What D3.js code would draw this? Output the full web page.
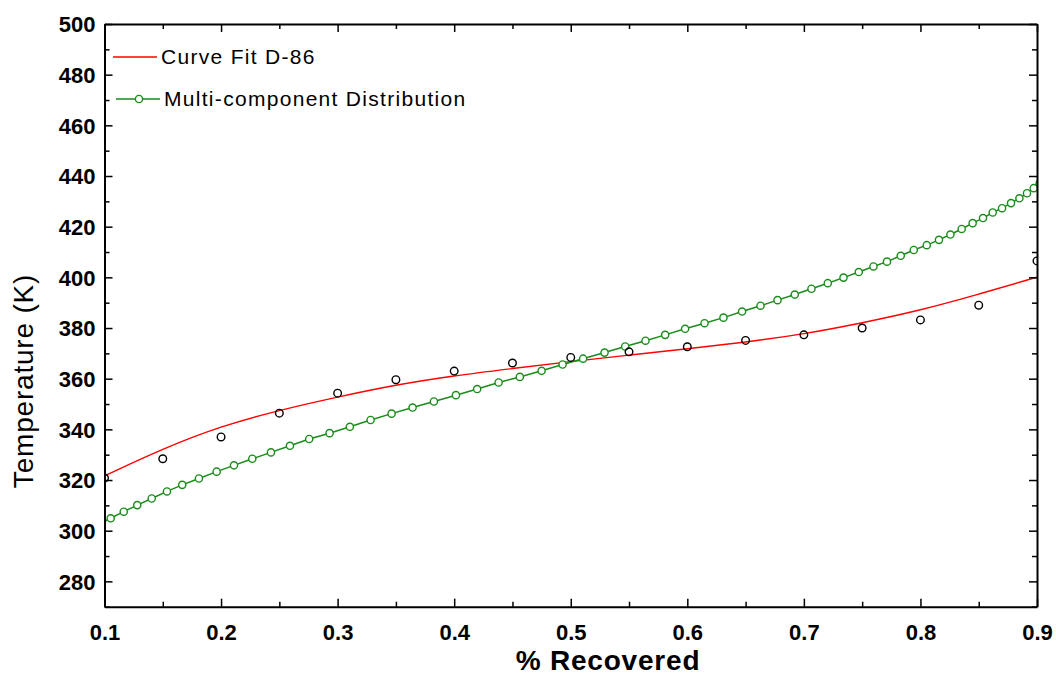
<!DOCTYPE html>
<html>
<head>
<meta charset="utf-8">
<script src="https://cdn.jsdelivr.net/npm/d3@7"></script>
<style>
  html, body { margin: 0; padding: 0; background: #fff; }
  svg { display: block; }
</style>
</head>
<body>
<svg id="chart" width="1056" height="675"></svg>
<script>
// Fraction recovered vs. temperature (K)

// ASTM D-86 distillation points
const d86X = [0.10, 0.15, 0.20, 0.25, 0.30, 0.35, 0.40, 0.45, 0.50, 0.55, 0.60, 0.65, 0.70, 0.75, 0.80, 0.85, 0.90];
const d86T = [320.8, 328.4, 337.0, 346.4, 354.3, 359.6, 363.0, 366.2, 368.4, 370.6, 372.6, 375.1, 377.3, 380.0, 383.2, 389.0, 406.5];

// Smooth curve fitted through the D-86 data
const fitX = [0.10, 0.15, 0.20, 0.25, 0.30, 0.35, 0.40, 0.45, 0.50, 0.55, 0.60, 0.65, 0.70, 0.75, 0.80, 0.85, 0.90];
const fitT = [321.6, 332.4, 341.3, 347.6, 352.8, 357.6, 361.2, 364.0, 366.8, 369.3, 371.8, 374.4, 377.6, 382.0, 387.0, 393.3, 400.1];

// Multi-component distribution result
const mcX = [0.0942, 0.1053, 0.1165, 0.1281, 0.1405, 0.1536, 0.1667, 0.1810, 0.1962, 0.2111,
             0.2268, 0.2428, 0.2591, 0.2756, 0.2931, 0.3105, 0.3283, 0.3463, 0.3643, 0.3826,
             0.4015, 0.4197, 0.4381, 0.4563, 0.4750, 0.4930, 0.5106, 0.5290, 0.5467, 0.5641,
             0.5810, 0.5981, 0.6148, 0.6310, 0.6470, 0.6628, 0.6774, 0.6922, 0.7065, 0.7205,
             0.7340, 0.7471, 0.7597, 0.7713, 0.7831, 0.7943, 0.8054, 0.8159, 0.8257, 0.8354,
             0.8448, 0.8537, 0.8620, 0.8700, 0.8777, 0.8849, 0.8914, 0.8972, 0.9023];
const mcT = [302.2, 304.9, 307.5, 310.1, 312.7, 315.5, 318.1, 320.6, 323.3, 325.8,
             328.4, 330.9, 333.5, 336.2, 338.5, 341.0, 343.7, 346.2, 348.6, 351.0,
             353.5, 355.9, 358.5, 360.7, 363.1, 365.6, 367.9, 370.3, 372.7, 375.0,
             377.3, 379.7, 381.9, 384.1, 386.5, 388.8, 391.0, 393.2, 395.5, 397.7,
             399.9, 402.1, 404.3, 406.2, 408.5, 410.8, 412.7, 414.8, 416.9, 419.1,
             421.4, 423.4, 425.6, 427.3, 429.3, 431.2, 433.2, 435.2, 437.1];

const xTickVals = [0.1, 0.2, 0.3, 0.4, 0.5, 0.6, 0.7, 0.8, 0.9];
const xTickLabels = ["0.1", "0.2", "0.3", "0.4", "0.5", "0.6", "0.7", "0.8", "0.9"];
const yTickVals = [280, 300, 320, 340, 360, 380, 400, 420, 440, 460, 480, 500];
const xMinor = [0.15, 0.25, 0.35, 0.45, 0.55, 0.65, 0.75, 0.85];
const yMinor = [270, 290, 310, 330, 350, 370, 390, 410, 430, 450, 470, 490];

const seriesNames = ["Curve Fit D-86", "Multi-component Distribution"];

const RED = "#ff0000";
const GREEN = "#1a8c1a";

const svg = d3.select("#chart");
const plotL = 104.5, plotR = 1037, plotT = 24, plotB = 606.7;

const x = d3.scaleLinear().domain([0.1, 0.9]).range([plotL, plotR]);
const y = d3.scaleLinear().domain([270, 500]).range([plotB, plotT]);

svg.append("defs").append("clipPath").attr("id", "plotClip")
  .append("rect").attr("x", plotL).attr("y", plotT)
  .attr("width", plotR - plotL).attr("height", plotB - plotT);

const plot = svg.append("g").attr("clip-path", "url(#plotClip)");

// Fitted curve
const fitData = fitX.map((v, i) => [v, fitT[i]]);
plot.append("path")
  .datum(fitData)
  .attr("fill", "none")
  .attr("stroke", RED)
  .attr("stroke-width", 1.4)
  .attr("d", d3.line().x(d => x(d[0])).y(d => y(d[1])).curve(d3.curveBasis));

// Multi-component distribution line + markers
const mcData = mcX.map((v, i) => [v, mcT[i]]);
plot.append("path")
  .datum(mcData)
  .attr("fill", "none")
  .attr("stroke", GREEN)
  .attr("stroke-width", 1.5)
  .attr("d", d3.line().x(d => x(d[0])).y(d => y(d[1])));

plot.selectAll("circle.mc")
  .data(mcData)
  .join("circle")
  .attr("class", "mc")
  .attr("cx", d => x(d[0]))
  .attr("cy", d => y(d[1]))
  .attr("r", 3.6)
  .attr("fill", "#fff")
  .attr("stroke", GREEN)
  .attr("stroke-width", 1.4);

// D-86 data points
plot.selectAll("circle.d86")
  .data(d86X.map((v, i) => [v, d86T[i]]))
  .join("circle")
  .attr("class", "d86")
  .attr("cx", d => x(d[0]))
  .attr("cy", d => y(d[1]))
  .attr("r", 3.8)
  .attr("fill", "none")
  .attr("stroke", "#000")
  .attr("stroke-width", 1.4);

// Axes (ticks pointing inward on all four sides)
const tickFont = "'Liberation Sans', Arial, sans-serif";

function styleAxis(g) {
  g.selectAll("path.domain").attr("stroke", "#000").attr("stroke-width", 2);
  g.selectAll(".tick line").attr("stroke", "#000").attr("stroke-width", 1.5);
}

const gx = svg.append("g").attr("transform", `translate(0,${plotB})`)
  .call(d3.axisBottom(x).tickValues(xTickVals).tickSize(-8).tickSizeOuter(0).tickPadding(0)
    .tickFormat((d, i) => xTickLabels[i]));
gx.call(styleAxis);
gx.selectAll(".tick text").attr("y", 33.5).attr("dy", null)
  .attr("font-family", tickFont).attr("font-weight", "bold").attr("font-size", 22).attr("fill", "#000");

svg.append("g").attr("transform", `translate(0,${plotB})`)
  .call(d3.axisBottom(x).tickValues(xMinor).tickSize(-5).tickSizeOuter(0).tickFormat(""))
  .call(styleAxis).select("path.domain").remove();

const gy = svg.append("g").attr("transform", `translate(${plotL},0)`)
  .call(d3.axisLeft(y).tickValues(yTickVals).tickSize(-8).tickSizeOuter(0).tickPadding(9));
gy.call(styleAxis);
gy.selectAll(".tick text").attr("x", -9).attr("dy", "0.35em")
  .attr("font-family", tickFont).attr("font-weight", "bold").attr("font-size", 22).attr("fill", "#000");

svg.append("g").attr("transform", `translate(${plotL},0)`)
  .call(d3.axisLeft(y).tickValues(yMinor).tickSize(-5).tickSizeOuter(0).tickFormat(""))
  .call(styleAxis).select("path.domain").remove();

// Top and right frame with inward ticks
svg.append("g").attr("transform", `translate(0,${plotT})`)
  .call(d3.axisTop(x).tickValues(xTickVals).tickSize(-8).tickSizeOuter(0).tickFormat(""))
  .call(styleAxis);
svg.append("g").attr("transform", `translate(0,${plotT})`)
  .call(d3.axisTop(x).tickValues(xMinor).tickSize(-5).tickSizeOuter(0).tickFormat(""))
  .call(styleAxis).select("path.domain").remove();
svg.append("g").attr("transform", `translate(${plotR},0)`)
  .call(d3.axisRight(y).tickValues(yTickVals).tickSize(-8).tickSizeOuter(0).tickFormat(""))
  .call(styleAxis);
svg.append("g").attr("transform", `translate(${plotR},0)`)
  .call(d3.axisRight(y).tickValues(yMinor).tickSize(-5).tickSizeOuter(0).tickFormat(""))
  .call(styleAxis).select("path.domain").remove();

// Axis titles
svg.append("text")
  .attr("x", 608).attr("y", 670)
  .attr("text-anchor", "middle")
  .attr("font-family", tickFont).attr("font-weight", "bold").attr("font-size", 28)
  .attr("letter-spacing", 0.8)
  .text("% Recovered");

svg.append("text")
  .attr("transform", "translate(33,381) rotate(-90)")
  .attr("text-anchor", "middle")
  .attr("font-family", tickFont).attr("font-size", 28)
  .attr("letter-spacing", 0.8)
  .text("Temperature (K)");

// Legend
const legend = svg.append("g");
legend.append("line")
  .attr("x1", 113).attr("x2", 157).attr("y1", 57).attr("y2", 57)
  .attr("stroke", RED).attr("stroke-width", 1.4);
legend.append("text")
  .attr("x", 161).attr("y", 64)
  .attr("font-family", tickFont).attr("font-size", 21).attr("letter-spacing", 1.3)
  .text(seriesNames[0]);

legend.append("line")
  .attr("x1", 116).attr("x2", 160).attr("y1", 99).attr("y2", 99)
  .attr("stroke", GREEN).attr("stroke-width", 1.5);
legend.append("circle")
  .attr("cx", 139).attr("cy", 99).attr("r", 3.6)
  .attr("fill", "#fff").attr("stroke", GREEN).attr("stroke-width", 1.4);
legend.append("text")
  .attr("x", 164).attr("y", 106)
  .attr("font-family", tickFont).attr("font-size", 21).attr("letter-spacing", 1.3)
  .text(seriesNames[1]);
</script>
</body>
</html>
